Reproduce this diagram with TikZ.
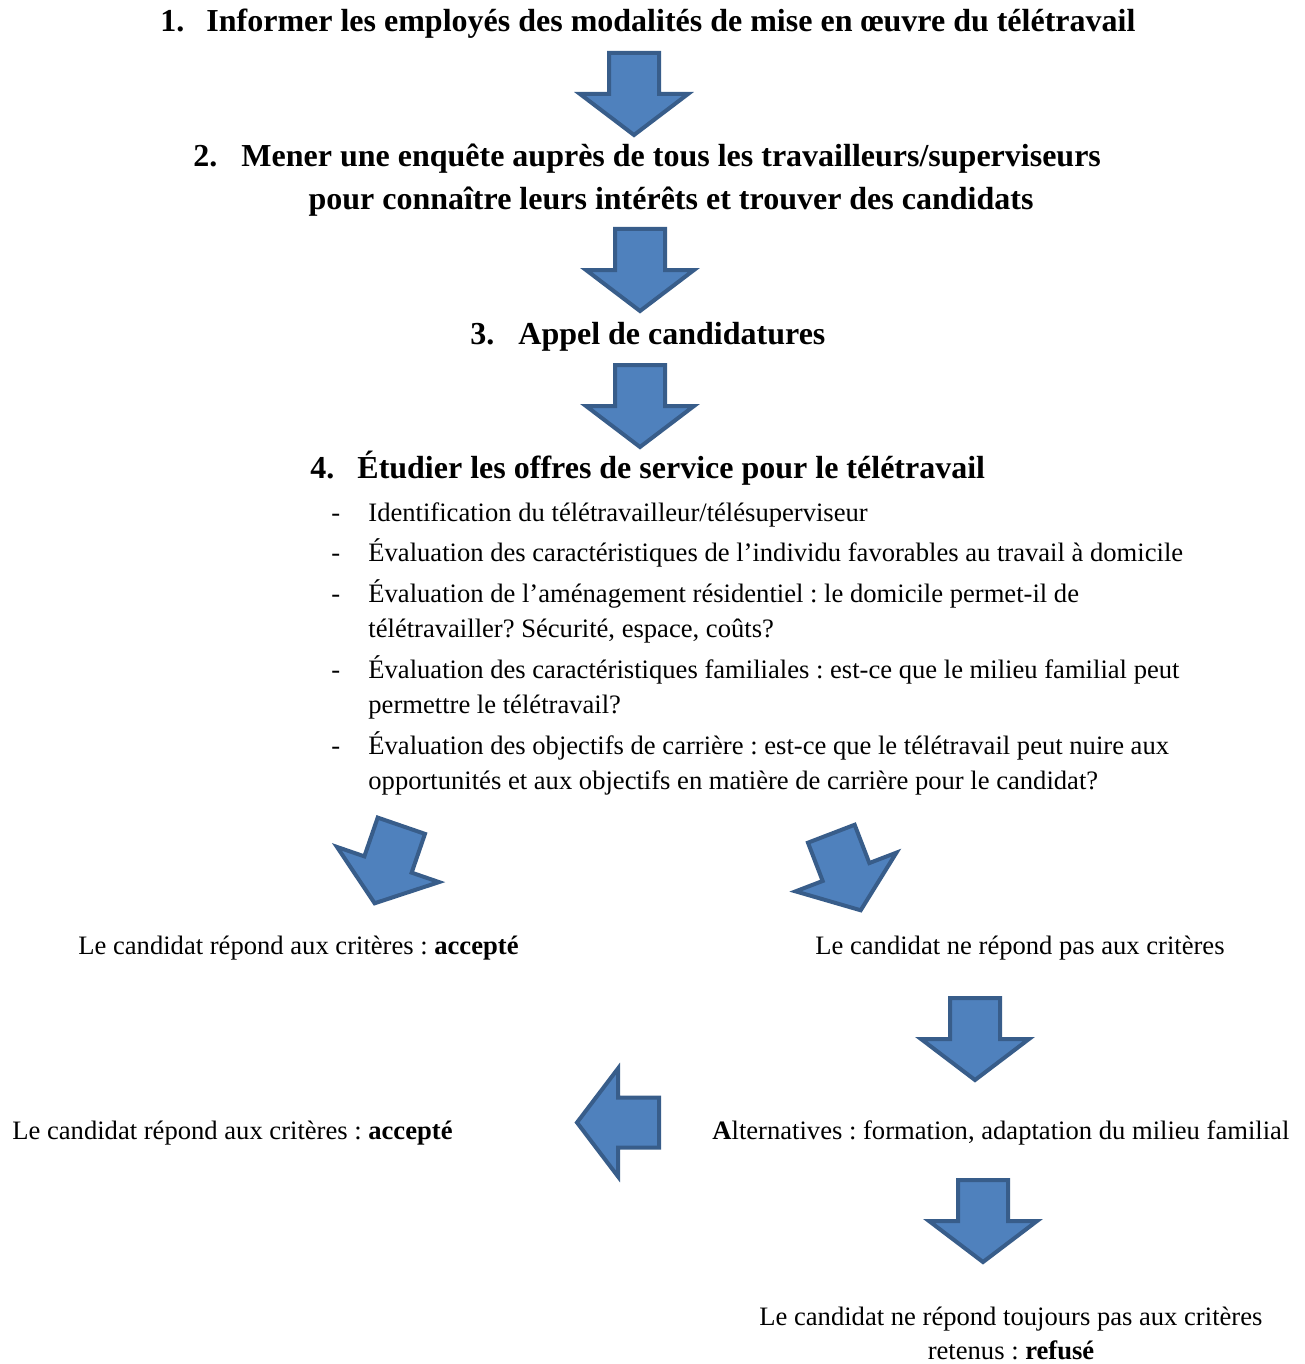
\documentclass[tikz,border=0pt]{standalone}
\usepackage{fontspec}
\setmainfont{Liberation Serif}
\frenchspacing
\definecolor{arrowfill}{HTML}{4F81BD}
\definecolor{arrowline}{HTML}{385D8A}
\begin{document}
\begin{tikzpicture}[x=0.5pt,y=-0.5pt,
  body/.style={inner sep=0pt, anchor=base west, font=\fontsize{13.3}{16}\selectfont},
  head/.style={inner sep=0pt, anchor=base west, font=\fontsize{16}{19}\selectfont\bfseries},
  blockdown/.pic={\draw[fill=arrowfill, draw=arrowline, line width=2pt, line join=miter]
    (-25,-41) -- (25,-41) -- (25,0) -- (54,0) -- (0,41) -- (-54,0) -- (-25,0) -- cycle;}]
\useasboundingbox (0,0) rectangle (1305,1364);

% Steps 1 to 4
\node[head] (n1) at (160,32) {1.};
\node[head] (h1) at (206,32) {Informer les employés des modalités de mise en œuvre du télétravail};
\pic (a1) at (634,94) {blockdown};

\node[head] (n2) at (193,167) {2.};
\node[head] (h2a) at (241,167) {Mener une enquête auprès de tous les travailleurs/superviseurs};
\node[head, anchor=base] (h2b) at (671,210) {pour connaître leurs intérêts et trouver des candidats};
\pic (a2) at (640,270) {blockdown};

\node[head] (n3) at (470,344) {3.};
\node[head] (h3) at (518,344) {Appel de candidatures};
\pic (a3) at (640,406) {blockdown};

\node[head] (n4) at (310,478) {4.};
\node[head] (h4) at (357,478) {Étudier les offres de service pour le télétravail};

% Criteria list
\node[body] (d1) at (331,521) {-};
\node[body] (i1) at (368,521) {Identification du télétravailleur/télésuperviseur};
\node[body] (d2) at (331,561) {-};
\node[body] (i2) at (368,561) {Évaluation des caractéristiques de l’individu favorables au travail à domicile};
\node[body] (d3) at (331,602) {-};
\node[body] (i3a) at (368,602) {Évaluation de l’aménagement résidentiel : le domicile permet-il de};
\node[body] (i3b) at (368,637) {télétravailler? Sécurité, espace, coûts?};
\node[body] (d4) at (331,678) {-};
\node[body] (i4a) at (368,678) {Évaluation des caractéristiques familiales : est-ce que le milieu familial peut};
\node[body] (i4b) at (368,713) {permettre le télétravail?};
\node[body] (d5) at (331,754) {-};
\node[body] (i5a) at (368,754) {Évaluation des objectifs de carrière : est-ce que le télétravail peut nuire aux};
\node[body] (i5b) at (368,789) {opportunités et aux objectifs en matière de carrière pour le candidat?};

% Outcomes
\pic[rotate=-19] (a4) at (388,864.5) {blockdown};
\pic[rotate=21] (a5) at (846,872) {blockdown};
\node[body] (acc1) at (78,954) {Le candidat répond aux critères : \textbf{accepté}};
\node[body] (non1) at (815,954) {Le candidat ne répond pas aux critères};

\pic (a6) at (975,1039) {blockdown};
\node[body] (acc2) at (12,1139) {Le candidat répond aux critères : \textbf{accepté}};
\pic[rotate=-90] (a7) at (618,1122.5) {blockdown};
\node[body] (alt) at (712,1139) {\textbf{A}lternatives : formation, adaptation du milieu familial};

\pic (a8) at (983,1221) {blockdown};
\node[body] (ref1) at (759,1325) {Le candidat ne répond toujours pas aux critères};
\node[body, anchor=base] (ref2) at (1011,1359) {retenus : \textbf{refusé}};
\end{tikzpicture}
\end{document}
